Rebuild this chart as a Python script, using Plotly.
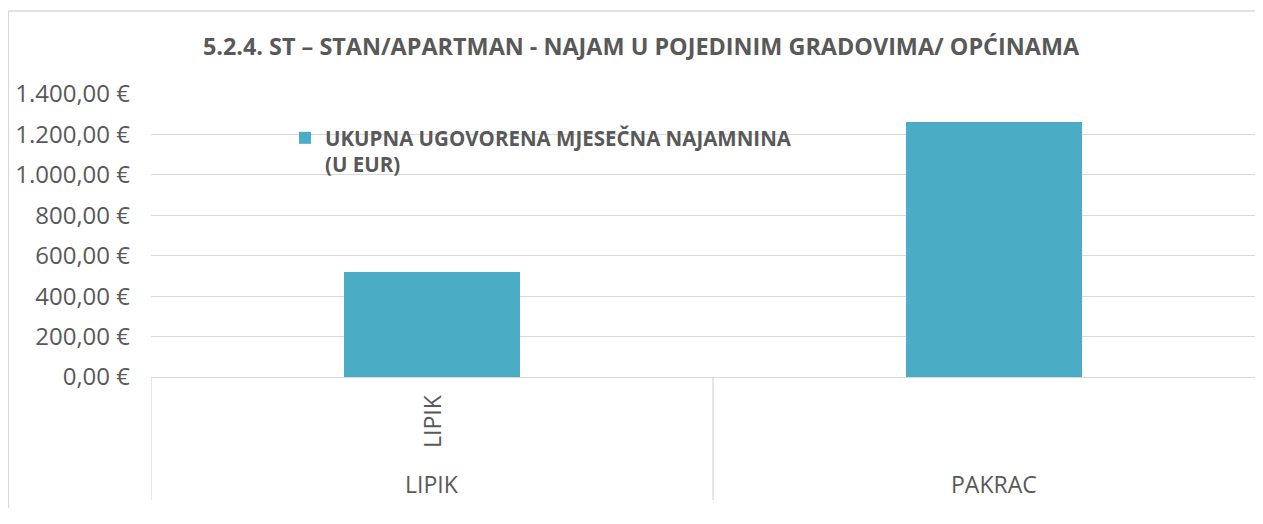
import plotly.graph_objects as go

# ---- data ----
outer_labels = ["LIPIK", "PAKRAC"]
inner_labels = ["LIPIK", ""]
values = [520, 1260]
series_name = "UKUPNA UGOVORENA MJESEČNA NAJAMNINA<br>(U EUR)"
title_text = "5.2.4. ST – STAN/APARTMAN - NAJAM U POJEDINIM GRADOVIMA/ OPĆINAMA"
y_ticks = [0, 200, 400, 600, 800, 1000, 1200, 1400]


def eur(v):
    s = f"{v:,.2f}"  # 1,400.00
    s = s.replace(",", "X").replace(".", ",").replace("X", ".")
    return s + " €"


y_ticktext = [eur(v) for v in y_ticks]

FONT = "Open Sans"
GRAY = "#595959"
GRID = "#d9d9d9"
BAR = "#4BACC6"

OFF = 8  # page body margin in the browser
RIGHT = 1263  # right edge of the drawing on screen
W, H = RIGHT - OFF, 500
L, T = 151 - OFF, 94 - OFF
plot_h = 283
B = H - T - plot_h
plot_w = W - L

xpos = list(range(len(values)))

fig = go.Figure()
fig.add_trace(go.Bar(
    x=xpos, y=values, name=series_name, width=0.313,
    marker=dict(color=BAR, line=dict(width=0)),
    showlegend=True,
))


def py(px):  # screen pixel y (reference) -> paper y
    return (377 - px) / plot_h


annotations = []
for i, lab in enumerate(inner_labels):
    if lab:
        annotations.append(dict(x=i, xref="x", y=py(421), yref="paper", text=lab,
                                textangle=-90, showarrow=False,
                                font=dict(family=FONT, size=23, color=GRAY),
                                xanchor="center", yanchor="middle"))
for i, lab in enumerate(outer_labels):
    annotations.append(dict(x=i, xref="x", y=py(484), yref="paper", text=lab,
                            showarrow=False,
                            font=dict(family=FONT, size=23, color=GRAY),
                            xanchor="center", yanchor="middle"))

shapes = []
for xb in [-0.5, 0.5]:
    shapes.append(dict(type="line", xref="x", yref="paper", x0=xb, x1=xb,
                       y0=0, y1=py(500), line=dict(color=GRID, width=1.3)))
# chart frame (top and left edges; the rest lies outside the picture)
fx0 = (8.5 - 151) / plot_w
fy1 = py(11)
shapes.append(dict(type="line", xref="paper", yref="paper",
                   x0=fx0, x1=1.0, y0=fy1, y1=fy1,
                   line=dict(color=GRID, width=1.3), layer="below"))
shapes.append(dict(type="line", xref="paper", yref="paper",
                   x0=fx0, x1=fx0, y0=py(H + OFF), y1=fy1,
                   line=dict(color=GRID, width=1.3), layer="below"))

fig.update_layout(
    width=W, height=H,
    margin=dict(l=L, r=0, t=T, b=B),
    paper_bgcolor="white", plot_bgcolor="white",
    title=dict(text="<b>" + title_text + "</b>", xref="container", x=(641 - OFF) / W,
               xanchor="center", y=1 - (47 - OFF) / H, yanchor="middle",
               font=dict(family=FONT, size=23.4, color=GRAY)),
    xaxis=dict(range=[-0.5, 0.5 + (RIGHT - 713) / 562], showticklabels=False,
               showgrid=False, zeroline=False, showline=True,
               linecolor=GRID, linewidth=1.3, fixedrange=True),
    yaxis=dict(range=[0, 1400], tickmode="array", tickvals=y_ticks, ticktext=y_ticktext,
               showgrid=True, gridcolor=GRID, gridwidth=1.3,
               zeroline=False, showline=False, ticklabelstandoff=20,
               tickfont=dict(family=FONT, size=24, color=GRAY)),
    legend=dict(x=(285 - 151) / plot_w, xanchor="left", y=py(118), yanchor="top",
                bgcolor="rgba(0,0,0,0)", valign="top",
                font=dict(family=FONT, size=20.5, color=GRAY, weight="bold")),
    annotations=annotations,
    shapes=shapes,
    bargap=0,
)

fig.write_html("out.html", config={"displayModeBar": False})
